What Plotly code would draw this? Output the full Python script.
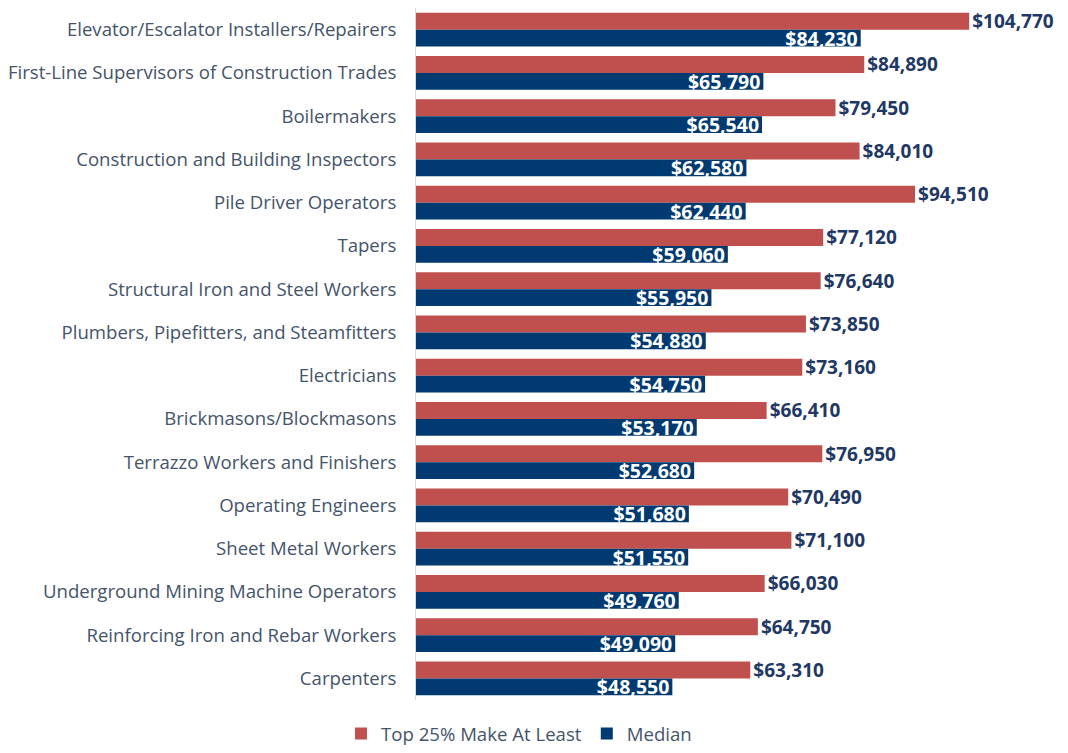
import plotly.graph_objects as go

categories = [
    "Elevator/Escalator Installers/Repairers",
    "First-Line Supervisors of Construction Trades",
    "Boilermakers",
    "Construction and Building Inspectors",
    "Pile Driver Operators",
    "Tapers",
    "Structural Iron and Steel Workers",
    "Plumbers, Pipefitters, and Steamfitters",
    "Electricians",
    "Brickmasons/Blockmasons",
    "Terrazzo Workers and Finishers",
    "Operating Engineers",
    "Sheet Metal Workers",
    "Underground Mining Machine Operators",
    "Reinforcing Iron and Rebar Workers",
    "Carpenters",
]
top25 = [104770, 84890, 79450, 84010, 94510, 77120, 76640, 73850, 73160, 66410,
         76950, 70490, 71100, 66030, 64750, 63310]
median = [84230, 65790, 65540, 62580, 62440, 59060, 55950, 54880, 54750, 53170,
          52680, 51680, 51550, 49760, 49090, 48550]

FONT = "Open Sans"
fig = go.Figure()
fig.add_trace(go.Bar(
    y=categories, x=top25, orientation="h", name="Top 25% Make At Least",
    marker_color="#C0504D", marker_line_width=0,
    text=[f"${v:,}" for v in top25], textposition="outside",
    textfont=dict(family=FONT, size=19, color="#1F3864", weight="bold"),
    constraintext="none", cliponaxis=False,
))
fig.add_trace(go.Bar(
    y=categories, x=median, orientation="h", name="Median",
    marker_color="#003A70", marker_line_width=0,
    text=[f"${v:,}" for v in median], textposition="inside", insidetextanchor="end",
    textfont=dict(family=FONT, size=19.5, color="white", weight="bold"),
    constraintext="none",
))
fig.update_layout(
    barmode="group", bargap=0.22, bargroupgap=0,
    width=1060, height=745,
    margin=dict(l=408, r=8, t=0, b=46),
    plot_bgcolor="white", paper_bgcolor="white",
    font=dict(family=FONT, size=18.6, color="#44546A"),
    uniformtext=dict(mode=False),
    legend=dict(orientation="h", x=0.16, xanchor="center", y=-0.049, yanchor="middle",
                font=dict(family=FONT, size=18.6, color="#44546A"), traceorder="normal"),
    xaxis=dict(visible=False, range=[0, 121970], showgrid=False),
    yaxis=dict(autorange="reversed", showgrid=False, showline=True, linecolor="#D9D9D9",
               linewidth=1, ticks="", ticklabelstandoff=15,
               tickfont=dict(family=FONT, size=18.6, color="#44546A")),
)
fig.write_html("out.html")
